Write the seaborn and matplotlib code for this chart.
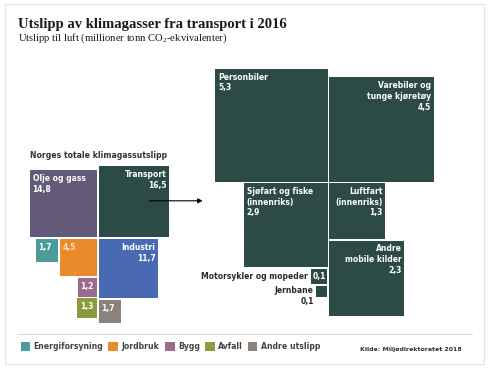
import numpy as np
import matplotlib
matplotlib.use("Agg")
import matplotlib.pyplot as plt
from matplotlib.patches import Rectangle, FancyArrowPatch
import seaborn as sns

# ---------------- data ----------------
total_cats = ["Olje og gass", "Transport", "Industri", "Energiforsyning",
              "Jordbruk", "Bygg", "Avfall", "Andre utslipp"]
total_vals = [14.8, 16.5, 11.7, 1.7, 4.5, 1.2, 1.3, 1.7]
total_colors = ["#635a79", "#2c4b47", "#4a69b3", "#4c9c9b",
                "#e98b2b", "#9a6b8b", "#8b9b3d", "#8a827b"]

transport_cats = ["Personbiler", "Varebiler og\ntunge kjøretøy",
                  "Sjøfart og fiske\n(innenriks)", "Luftfart\n(innenriks)",
                  "Andre\nmobile kilder", "Motorsykler og mopeder", "Jernbane"]
transport_vals = [5.3, 4.5, 2.9, 1.3, 2.3, 0.1, 0.05]
transport_color = "#2c4b47"

legend_cats = ["Energiforsyning", "Jordbruk", "Bygg", "Avfall", "Andre utslipp"]

title = "Utslipp av klimagasser fra transport i 2016"
subtitle = r"Utslipp til luft (millioner tonn CO$_\mathregular{2}$-ekvivalenter)"
source = "Kilde: Miljødirektoratet 2018"
group_title = "Norges totale klimagassutslipp"

def fmt(v):
    return f"{v:.1f}".replace(".", ",")

# ---------------- style ----------------
sns.set_theme(style="white")
plt.rcParams["font.family"] = ["DejaVu Sans"]
plt.rcParams["mathtext.fontset"] = "custom"
plt.rcParams["mathtext.rm"] = "Liberation Serif"

W, H = 488, 371
fig = plt.figure(figsize=(W / 100, H / 100), dpi=100)
fig.patch.set_facecolor("white")
ax = fig.add_axes([0, 0, 1, 1])
ax.set_xlim(0, W)
ax.set_ylim(H, 0)
ax.axis("off")

# frame
ax.add_patch(Rectangle((5, 4), 479, 360, fill=False, ec="#e4e4e4", lw=0.8))
ax.plot([17, 472], [334.3, 334.3], color="#d9d9d9", lw=0.8)

LBL = dict(color="white", fontsize=5.5, fontweight="bold", linespacing=1.25)

# ---------------- left group: totals ----------------
cx, cy, k, g = 97.8, 238.0, 17.4, 1.8
s = [np.sqrt(v) * k for v in total_vals]
rects = {}
rects[0] = (cx - g / 2 - s[0], cy - g / 2 - s[0])          # Olje og gass
rects[1] = (cx + g / 2, cy - g / 2 - s[1])                  # Transport
rects[2] = (cx + g / 2, cy + g / 2)                         # Industri
rects[4] = (cx - g / 2 - s[4], cy + g / 2)                  # Jordbruk
rects[3] = (rects[4][0] - g - s[3], cy + g / 2)             # Energiforsyning
rects[5] = (cx - g / 2 - s[5], rects[4][1] + s[4] + g)      # Bygg
rects[6] = (cx - g / 2 - s[6], rects[5][1] + s[5] + g)      # Avfall
rects[7] = (cx + g / 2, rects[2][1] + s[2] + g)             # Andre utslipp

for i in range(len(total_vals)):
    x0, y0 = rects[i]
    ax.add_patch(Rectangle((x0, y0), s[i], s[i], fc=total_colors[i], ec="none"))

pad = 2.6
x0, y0 = rects[0]
ax.text(x0 + pad, y0 + 4, f"{total_cats[0]}\n{fmt(total_vals[0])}", ha="left", va="top", **LBL)
x0, y0 = rects[1]
ax.text(x0 + s[1] - pad, y0 + 4, f"{total_cats[1]}\n{fmt(total_vals[1])}", ha="right", va="top",
        multialignment="right", **LBL)
x0, y0 = rects[2]
ax.text(x0 + s[2] - pad, y0 + 4, f"{total_cats[2]}\n{fmt(total_vals[2])}", ha="right", va="top",
        multialignment="right", **LBL)
for i in [3, 4, 5, 6, 7]:
    x0, y0 = rects[i]
    ax.text(x0 + pad, y0 + 4, fmt(total_vals[i]), ha="left", va="top",
            **{**LBL, "color": "#f7e6cf" if i == 4 else "white"})

ax.text(29.5, 155.8, group_title, ha="left", va="center", fontsize=5.6,
        color="#333333", fontweight="bold")

# arrow
ax.add_patch(FancyArrowPatch((146.5, 200.8), (205.5, 200.8), arrowstyle="-|>",
                             mutation_scale=7, color="black", lw=0.8))

# ---------------- right group: transport ----------------
cx, cy, k, g = 328.6, 182.6, 49.2, 1.5
t = [np.sqrt(v) * k for v in transport_vals]
tr = {}
tr[0] = (cx - g / 2 - t[0], cy - g / 2 - t[0])
tr[1] = (cx + g / 2, cy - g / 2 - t[1])
tr[2] = (cx - g / 2 - t[2], cy + g / 2)
tr[3] = (cx + g / 2, cy + g / 2)
tr[4] = (cx + g / 2, tr[3][1] + t[3] + g)
tr[5] = (cx - g / 2 - 1.2 - t[5], tr[2][1] + t[2] + g)
tr[6] = (cx - g / 2 - 1.2 - t[6], tr[5][1] + t[5] + g)

for i in range(len(transport_vals)):
    x0, y0 = tr[i]
    ax.add_patch(Rectangle((x0, y0), t[i], t[i], fc=transport_color, ec="none"))

x0, y0 = tr[0]
ax.text(x0 + 3.5, y0 + 4, f"{transport_cats[0]}\n{fmt(transport_vals[0])}", ha="left", va="top", **LBL)
x0, y0 = tr[1]
ax.text(x0 + t[1] - 2.5, y0 + 4, f"{transport_cats[1]}\n{fmt(transport_vals[1])}", ha="right", va="top",
        multialignment="right", **LBL)
x0, y0 = tr[2]
ax.text(x0 + 2.5, y0 + 3.5, f"{transport_cats[2]}\n{fmt(transport_vals[2])}", ha="left", va="top", **LBL)
x0, y0 = tr[3]
ax.text(x0 + t[3] - 2.5, y0 + 3.5, f"{transport_cats[3]}\n{fmt(transport_vals[3])}", ha="right", va="top",
        multialignment="right", **LBL)
x0, y0 = tr[4]
ax.text(x0 + t[4] - 2.5, y0 + 3.5, f"{transport_cats[4]}\n{fmt(transport_vals[4])}", ha="right", va="top",
        multialignment="right", **LBL)
x0, y0 = tr[5]
ax.text(x0 + 1.3, y0 + t[5] / 2, fmt(transport_vals[5]), ha="left", va="center", **LBL)
ax.text(x0 - 3, y0 + t[5] / 2, transport_cats[5], ha="right", va="center",
        **{**LBL, "color": "#2a2a2a"})
x0, y0 = tr[6]
ax.text(x0 - 2, y0 + 0.3, f"{transport_cats[6]}\n{fmt(transport_vals[6])}", ha="right", va="top",
        multialignment="right", **{**LBL, "color": "#2a2a2a"})

# ---------------- titles ----------------
ax.text(17.5, 24.5, title, ha="left", va="center", fontsize=10.5,
        fontfamily="Liberation Serif", fontweight="bold", color="#1a1a1a")
ax.text(17.5, 38.5, subtitle, ha="left", va="center", fontsize=7.7,
        fontfamily="Liberation Serif", color="#1a1a1a")

# ---------------- legend ----------------
leg_x = [20.7, 108.3, 165.0, 205.0, 247.7]
for i, name in enumerate(legend_cats):
    ax.add_patch(Rectangle((leg_x[i], 341.8), 9.5, 9, fc=total_colors[3 + i], ec="none"))
    ax.text(leg_x[i] + 13, 346.5, name, ha="left", va="center", fontsize=5.6,
            color="#444444", fontweight="bold")

ax.text(462, 349.5, source, ha="right", va="center", fontsize=4.5,
        color="#333333", fontweight="bold")

fig.savefig("out.png", dpi=100, facecolor="white")
